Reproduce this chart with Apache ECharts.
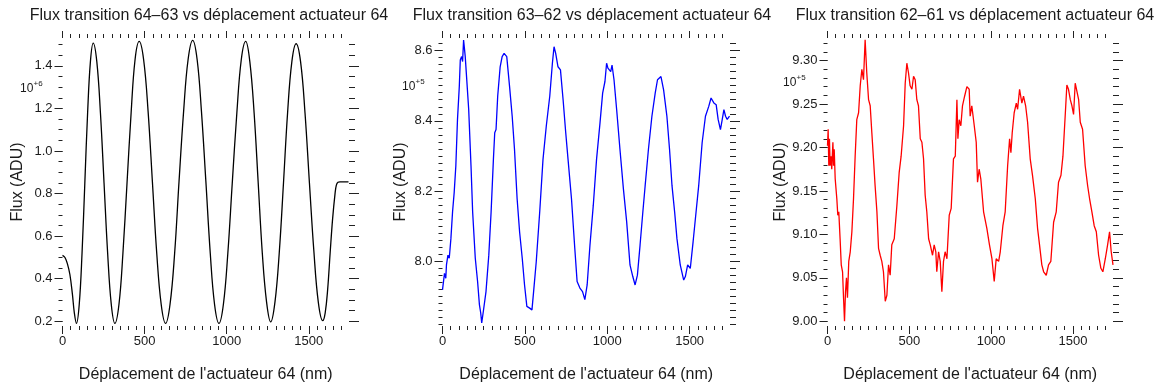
<!DOCTYPE html>
<html>
<head>
<meta charset="utf-8">
<script src="https://cdn.jsdelivr.net/npm/echarts@6/dist/echarts.min.js"></script>
<style>
html,body{margin:0;padding:0;background:#fff;}
#chart{width:1155px;height:388px;}
</style>
</head>
<body>
<div id="chart"></div>
<script>
// ---------- DATA ----------
const titles = [
  'Flux transition 64\u201363 vs d\u00e9placement actuateur 64',
  'Flux transition 63\u201362 vs d\u00e9placement actuateur 64',
  'Flux transition 62\u201361 vs d\u00e9placement actuateur 64'
];
const xAxisName = "D\u00e9placement de l'actuateur 64 (nm)";
const yAxisName = 'Flux (ADU)';
const exponentLabels = ['+6', '+5', '+5'];

const xTicks = [0, 500, 1000, 1500];
const p1YTicks = [0.2, 0.4, 0.6, 0.8, 1.0, 1.2, 1.4];
const p2YTicks = [8.0, 8.2, 8.4, 8.6];
const p3YTicks = [9.00, 9.05, 9.10, 9.15, 9.20, 9.25, 9.30];

// panel 1 : transition 64-63 (x nm, flux x1e6)
const p1Data = [
  [0,0.51],[15,0.50],[30,0.47],[45,0.42],[60,0.33],[72,0.24],[85,0.19],
  [102,0.28],[119,0.52],[136,0.85],[153,1.18],[170,1.42],[187,1.507],
  [209,1.42],[231,1.18],[253,0.85],[275,0.52],[297,0.28],[319,0.19],
  [344,0.28],[368,0.52],[393,0.85],[418,1.18],[442,1.43],[467,1.515],
  [494,1.43],[521,1.19],[548,0.85],[574,0.52],[601,0.28],[628,0.19],
  [655,0.28],[683,0.52],[710,0.86],[738,1.19],[765,1.43],[793,1.52],
  [820,1.43],[846,1.19],[873,0.86],[900,0.52],[926,0.28],[953,0.19],
  [980,0.28],[1007,0.52],[1034,0.85],[1062,1.18],[1089,1.43],[1116,1.515],
  [1141,1.42],[1167,1.18],[1192,0.85],[1217,0.52],[1243,0.29],[1268,0.197],
  [1294,0.29],[1320,0.52],[1346,0.85],[1371,1.18],[1397,1.42],[1423,1.504],
  [1450,1.42],[1477,1.18],[1504,0.85],[1531,0.53],[1558,0.29],[1585,0.203],
  [1600,0.24],[1615,0.35],[1630,0.52],[1645,0.68],[1660,0.80],[1668,0.84],
  [1678,0.853],[1690,0.855],[1742,0.855]
];

// panel 2 : transition 63-62 (flux x1e5)
const p2Data = [
  [0,7.918],[12,7.965],[20,7.951],[24,7.989],[33,8.017],[41,8.008],[51,8.064],
  [61,8.140],[71,8.196],[81,8.272],[91,8.404],[102,8.498],[108,8.573],[116,8.583],
  [122,8.569],[128,8.630],[134,8.602],[138,8.583],[146,8.526],[159,8.432],[173,8.272],
  [183,8.140],[199,8.008],[213,7.942],[224,7.876],[232,7.852],[238,7.824],[248,7.857],
  [256,7.852],[264,7.913],[281,8.017],[295,8.140],[309,8.290],[317,8.366],[325,8.375],
  [335,8.470],[350,8.554],[362,8.583],[374,8.592],[390,8.583],[407,8.498],[423,8.413],
  [437,8.319],[453,8.177],[468,8.083],[484,8.008],[498,7.932],[512,7.871],[529,7.866],
  [543,7.861],[553,7.913],[569,7.998],[590,8.140],[610,8.290],[630,8.385],[651,8.470],
  [667,8.564],[677,8.611],[687,8.592],[701,8.554],[716,8.545],[732,8.460],[748,8.366],
  [762,8.290],[783,8.177],[803,8.036],[817,7.942],[834,7.923],[850,7.913],[864,7.890],
  [878,7.932],[895,8.045],[915,8.158],[935,8.290],[956,8.394],[972,8.479],[986,8.512],
  [996,8.564],[1004,8.550],[1012,8.554],[1021,8.540],[1029,8.559],[1041,8.517],[1057,8.432],
  [1077,8.319],[1098,8.206],[1118,8.111],[1138,7.989],[1155,7.956],[1169,7.932],[1183,7.960],
  [1199,8.045],[1216,8.140],[1230,8.215],[1250,8.319],[1271,8.413],[1291,8.479],[1305,8.517],
  [1326,8.526],[1342,8.488],[1362,8.413],[1378,8.319],[1393,8.215],[1409,8.140],[1423,8.064],
  [1443,7.989],[1464,7.946],[1474,7.956],[1488,7.989],[1504,7.979],[1521,8.055],[1539,8.140],
  [1555,8.215],[1576,8.338],[1596,8.413],[1616,8.441],[1630,8.465],[1647,8.451],[1661,8.446],
  [1673,8.404],[1687,8.375],[1698,8.404],[1708,8.432],[1718,8.413],[1728,8.404],[1742,8.413]
];

// panel 3 : transition 62-61 (flux x1e5)
const p3Data = [
  [0,9.202],[4,9.221],[8,9.179],[12,9.210],[16,9.179],[22,9.190],[26,9.175],[33,9.206],
  [37,9.179],[41,9.198],[47,9.164],[57,9.141],[63,9.122],[69,9.126],[77,9.095],[84,9.065],
  [92,9.057],[98,9.027],[104,9.000],[110,9.034],[116,9.050],[122,9.027],[130,9.069],[139,9.080],
  [149,9.103],[159,9.141],[169,9.190],[179,9.232],[190,9.240],[200,9.271],[210,9.290],[220,9.278],
  [230,9.324],[240,9.286],[251,9.255],[261,9.248],[271,9.217],[281,9.187],[291,9.156],[302,9.126],
  [312,9.084],[322,9.076],[332,9.069],[342,9.057],[353,9.023],[363,9.030],[373,9.065],[383,9.053],
  [393,9.088],[408,9.095],[424,9.133],[438,9.171],[450,9.190],[465,9.225],[475,9.274],[485,9.297],
  [495,9.286],[505,9.271],[516,9.267],[526,9.282],[536,9.278],[546,9.255],[556,9.248],[567,9.210],
  [577,9.206],[587,9.187],[597,9.145],[607,9.126],[618,9.095],[628,9.088],[642,9.076],[652,9.088],
  [662,9.080],[668,9.057],[679,9.080],[689,9.069],[699,9.034],[709,9.069],[719,9.080],[730,9.072],
  [744,9.122],[756,9.130],[770,9.187],[781,9.190],[791,9.255],[797,9.210],[805,9.232],[815,9.225],
  [825,9.248],[838,9.259],[852,9.270],[866,9.267],[872,9.236],[882,9.248],[897,9.225],[909,9.206],
  [917,9.160],[927,9.175],[937,9.164],[954,9.126],[974,9.107],[990,9.088],[1005,9.072],[1019,9.046],
  [1031,9.072],[1046,9.069],[1056,9.080],[1072,9.110],[1086,9.126],[1101,9.179],[1113,9.210],
  [1121,9.194],[1129,9.217],[1141,9.240],[1154,9.251],[1162,9.244],[1174,9.267],[1188,9.251],
  [1198,9.259],[1211,9.248],[1223,9.229],[1239,9.187],[1253,9.168],[1270,9.141],[1284,9.107],
  [1296,9.088],[1310,9.065],[1321,9.057],[1337,9.053],[1351,9.065],[1365,9.069],[1382,9.114],
  [1398,9.126],[1412,9.160],[1427,9.168],[1439,9.190],[1447,9.217],[1455,9.244],[1463,9.272],
  [1473,9.267],[1484,9.255],[1494,9.248],[1504,9.238],[1514,9.274],[1524,9.276],[1535,9.255],
  [1545,9.229],[1559,9.221],[1575,9.179],[1590,9.156],[1602,9.141],[1616,9.126],[1630,9.110],
  [1643,9.103],[1657,9.076],[1671,9.061],[1683,9.057],[1698,9.072],[1712,9.088],[1724,9.103],
  [1734,9.080],[1745,9.065]
];

// ---------- LAYOUT / STYLE ----------
const FONT = '"Liberation Sans", Arial, Helvetica, sans-serif';
const TXT = '#1a1a1a';
const TICK = '#222';

function steps(a, b, s, dec) {
  const out = [];
  const n = Math.round((b - a) / s);
  for (let k = 0; k <= n; k++) out.push(+(a + k * s).toFixed(dec));
  return out;
}

const panels = [
  { data: p1Data, color: '#000000', smooth: 0.4, left: 62.5, right: 349, top: 38, bottom: 328,
    ymin: 0.178, ymax: 1.531, yTicks: p1YTicks, yMinor: steps(0.2, 1.5, 0.05, 2), dec: 1,
    nameGap: 37, expX: 20, expY: 83, titleX: 204 },
  { data: p2Data, color: '#0000ff', smooth: false, left: 442.5, right: 730, top: 38, bottom: 328,
    ymin: 7.815, ymax: 8.636, yTicks: p2YTicks, yMinor: steps(7.82, 8.62, 0.02, 2), dec: 1,
    nameGap: 34, expX: 402, expY: 81, titleX: 587 },
  { data: p3Data, color: '#ff0000', smooth: false, left: 827.5, right: 1113, top: 38, bottom: 328,
    ymin: 8.9946, ymax: 9.326, yTicks: p3YTicks, yMinor: steps(9.00, 9.32, 0.01, 2), dec: 2,
    nameGap: 37, expX: 783, expY: 77, titleX: 970 }
];
const xmin = 0, xmax = 1745;
const xMinor = steps(0, 1700, 50, 0);

const option = {
  animation: false,
  backgroundColor: '#fff',
  title: [], grid: [], xAxis: [], yAxis: [], series: [], graphic: []
};

function axisBase(extra) {
  return Object.assign({
    type: 'value', axisLine: { show: false, onZero: false }, splitLine: { show: false },
    axisLabel: { show: false }, axisPointer: { show: false }
  }, extra);
}

panels.forEach((p, i) => {
  option.title.push({
    text: titles[i], left: p.titleX, top: 3, textAlign: 'center',
    textStyle: { fontFamily: FONT, fontSize: 16, fontWeight: 'normal', color: TXT }
  });
  option.grid.push({ left: p.left, top: p.top, width: p.right - p.left, height: p.bottom - p.top });

  const tick = (vals, len) => ({ show: true, inside: false, length: len, customValues: vals,
    lineStyle: { color: TICK, width: 1 } });

  // x axes: bottom major, bottom minor, top major, top minor
  option.xAxis.push(axisBase({ gridIndex: i, position: 'bottom', min: xmin, max: xmax,
    axisTick: tick(xTicks, 8),
    axisLabel: { show: true, customValues: xTicks, margin: 9, fontFamily: FONT, fontSize: 13, color: TXT,
      formatter: v => String(Math.round(v)) },
    name: xAxisName, nameLocation: 'middle', nameGap: 41,
    nameTextStyle: { fontFamily: FONT, fontSize: 16, color: TXT } }));
  option.xAxis.push(axisBase({ gridIndex: i, position: 'bottom', min: xmin, max: xmax, axisTick: tick(xMinor, 4) }));
  option.xAxis.push(axisBase({ gridIndex: i, position: 'top', min: xmin, max: xmax, axisTick: tick(xTicks, 7) }));
  option.xAxis.push(axisBase({ gridIndex: i, position: 'top', min: xmin, max: xmax, axisTick: tick(xMinor, 4) }));

  // y axes: left major, left minor, right major, right minor
  option.yAxis.push(axisBase({ gridIndex: i, position: 'left', min: p.ymin, max: p.ymax,
    axisTick: tick(p.yTicks, 8),
    axisLabel: { show: true, customValues: p.yTicks, margin: 10, fontFamily: FONT, fontSize: 13, color: TXT,
      formatter: v => Number(v).toFixed(p.dec) },
    name: yAxisName, nameLocation: 'middle', nameGap: p.nameGap, nameRotate: 90,
    nameTextStyle: { fontFamily: FONT, fontSize: 16, color: TXT } }));
  option.yAxis.push(axisBase({ gridIndex: i, position: 'left', min: p.ymin, max: p.ymax, axisTick: tick(p.yMinor, 4) }));
  option.yAxis.push(axisBase({ gridIndex: i, position: 'right', min: p.ymin, max: p.ymax, axisTick: tick(p.yTicks, 10) }));
  option.yAxis.push(axisBase({ gridIndex: i, position: 'right', min: p.ymin, max: p.ymax, axisTick: tick(p.yMinor, 6) }));

  option.series.push({
    type: 'line', xAxisIndex: 4 * i, yAxisIndex: 4 * i, data: p.data,
    showSymbol: false, symbol: 'none', smooth: p.smooth,
    lineStyle: { color: p.color, width: 1.3 }, clip: true
  });

  option.graphic.push({ type: 'text', left: p.expX, top: p.expY,
    style: { text: '10', fontFamily: FONT, fontSize: 12, fill: TXT } });
  option.graphic.push({ type: 'text', left: p.expX + 13.5, top: p.expY - 3,
    style: { text: exponentLabels[i], fontFamily: FONT, fontSize: 8, fill: TXT } });
});

const chart = echarts.init(document.getElementById('chart'), null, { renderer: 'canvas' });
chart.setOption(option);
</script>
</body>
</html>
